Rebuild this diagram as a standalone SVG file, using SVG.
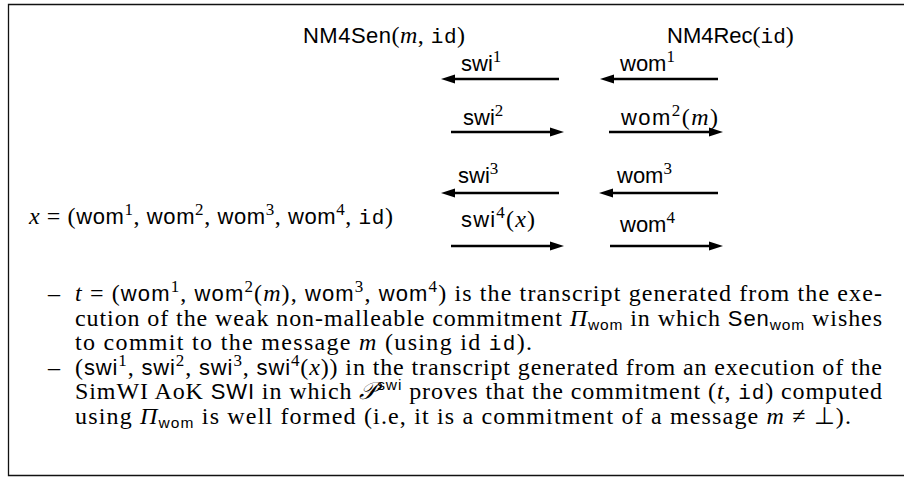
<svg xmlns="http://www.w3.org/2000/svg" width="904" height="477" viewBox="0 0 904 477">
<style>
  text { fill: #000; font-size: 24px; }
  .sf { font-family: "Liberation Sans", Arial, sans-serif; font-size: 22px; }
  .rm { font-family: "Liberation Serif", "Times New Roman", serif; font-size: 24px; }
  .it { font-family: "Liberation Serif", "Times New Roman", serif; font-style: italic; font-size: 24px; }
  .tt { font-family: "Liberation Mono", "Courier New", monospace; font-size: 21px; }
  .sup { font-family: "Liberation Serif", "Times New Roman", serif; font-size: 17px; }
  .sub { font-family: "Liberation Sans", Arial, sans-serif; font-size: 15.5px; }
  .arrow { stroke: #000; stroke-width: 2.6; fill: none; marker-end: url(#head); }
  .frame { stroke: #111; stroke-width: 1.3; fill: none; }
</style>
<defs>
  <marker id="head" markerUnits="userSpaceOnUse" markerWidth="14" markerHeight="10" viewBox="0 0 14 10" refX="0" refY="5" orient="auto">
    <path d="M0,0.4 L14,5 L0,9.6 z" fill="#000"/>
  </marker>
</defs>
<rect width="904" height="477" fill="#fff"/>
<path class="frame" d="M904,4.5 H8.5 V475.5 H904"/>

<g id="sender">
  <text x="303" y="43" textLength="162" lengthAdjust="spacing"><tspan class="sf">NM4Sen</tspan><tspan class="rm">(</tspan><tspan class="it">m</tspan><tspan class="rm">, </tspan><tspan class="tt">id</tspan><tspan class="rm">)</tspan></text>
</g>
<g id="receiver">
  <text x="667" y="43"><tspan class="sf">NM4Rec</tspan><tspan class="rm">(</tspan><tspan class="tt">id</tspan><tspan class="rm">)</tspan></text>
</g>
<g id="statement">
  <text x="29" y="224" textLength="364" lengthAdjust="spacing"><tspan class="it">x</tspan><tspan class="rm"> = (</tspan><tspan class="sf">wom</tspan><tspan class="sup" dy="-9">1</tspan><tspan class="rm" dy="9">, </tspan><tspan class="sf">wom</tspan><tspan class="sup" dy="-9">2</tspan><tspan class="rm" dy="9">, </tspan><tspan class="sf">wom</tspan><tspan class="sup" dy="-9">3</tspan><tspan class="rm" dy="9">, </tspan><tspan class="sf">wom</tspan><tspan class="sup" dy="-9">4</tspan><tspan class="rm" dy="9">, </tspan><tspan class="tt">id</tspan><tspan class="rm">)</tspan></text>
</g>

<g id="connectors">
  <line class="arrow" x1="559" y1="79" x2="455" y2="79"/>
  <line class="arrow" x1="718" y1="79" x2="614" y2="79"/>
  <line class="arrow" x1="451" y1="132" x2="550" y2="132"/>
  <line class="arrow" x1="609" y1="132" x2="709" y2="132"/>
  <line class="arrow" x1="559" y1="193" x2="455" y2="193"/>
  <line class="arrow" x1="718" y1="193" x2="613" y2="193"/>
  <line class="arrow" x1="451" y1="246" x2="550" y2="246"/>
  <line class="arrow" x1="610" y1="246" x2="709" y2="246"/>
</g>
<g id="connector-labels">
  <text x="461" y="71"><tspan class="sf">swi</tspan><tspan class="sup" dy="-9">1</tspan></text>
  <text x="620" y="71"><tspan class="sf">wom</tspan><tspan class="sup" dy="-9">1</tspan></text>
  <text x="463" y="125"><tspan class="sf">swi</tspan><tspan class="sup" dy="-9">2</tspan></text>
  <text x="621" y="125" textLength="97" lengthAdjust="spacing"><tspan class="sf">wom</tspan><tspan class="sup" dy="-9">2</tspan><tspan class="rm" dy="9">(</tspan><tspan class="it">m</tspan><tspan class="rm">)</tspan></text>
  <text x="458" y="183"><tspan class="sf">swi</tspan><tspan class="sup" dy="-9">3</tspan></text>
  <text x="617" y="183"><tspan class="sf">wom</tspan><tspan class="sup" dy="-9">3</tspan></text>
  <text x="461" y="227" textLength="74" lengthAdjust="spacing"><tspan class="sf">swi</tspan><tspan class="sup" dy="-9">4</tspan><tspan class="rm" dy="9">(</tspan><tspan class="it">x</tspan><tspan class="rm">)</tspan></text>
  <text x="620" y="232"><tspan class="sf">wom</tspan><tspan class="sup" dy="-9">4</tspan></text>
</g>

<g id="notes">
  <text class="rm" x="48" y="301">–</text>
  <text x="75" y="301" textLength="807" lengthAdjust="spacing"><tspan class="it">t</tspan><tspan class="rm"> = (</tspan><tspan class="sf">wom</tspan><tspan class="sup" dy="-9">1</tspan><tspan class="rm" dy="9">, </tspan><tspan class="sf">wom</tspan><tspan class="sup" dy="-9">2</tspan><tspan class="rm" dy="9">(</tspan><tspan class="it">m</tspan><tspan class="rm">), </tspan><tspan class="sf">wom</tspan><tspan class="sup" dy="-9">3</tspan><tspan class="rm" dy="9">, </tspan><tspan class="sf">wom</tspan><tspan class="sup" dy="-9">4</tspan><tspan class="rm" dy="9">) is the transcript generated from the exe-</tspan></text>
  <text class="rm" x="75" y="325.5" textLength="807" lengthAdjust="spacing">cution of the weak non-malleable commitment <tspan class="it">Π</tspan><tspan class="sub" dy="4">wom</tspan><tspan class="rm" dy="-4"> in which </tspan><tspan class="sf">Sen</tspan><tspan class="sub" dy="4">wom</tspan><tspan class="rm" dy="-4"> wishes</tspan></text>
  <text class="rm" x="75" y="350" textLength="457" lengthAdjust="spacing">to commit to the message <tspan class="it">m</tspan><tspan class="rm"> (using id </tspan><tspan class="tt">id</tspan><tspan class="rm">).</tspan></text>
  <text class="rm" x="48" y="374.5">–</text>
  <text class="rm" x="75" y="374.5" textLength="807" lengthAdjust="spacing">(<tspan class="sf">swi</tspan><tspan class="sup" dy="-9">1</tspan><tspan class="rm" dy="9">, </tspan><tspan class="sf">swi</tspan><tspan class="sup" dy="-9">2</tspan><tspan class="rm" dy="9">, </tspan><tspan class="sf">swi</tspan><tspan class="sup" dy="-9">3</tspan><tspan class="rm" dy="9">, </tspan><tspan class="sf">swi</tspan><tspan class="sup" dy="-9">4</tspan><tspan class="rm" dy="9">(</tspan><tspan class="it">x</tspan><tspan class="rm">)) in the transcript generated from an execution of the</tspan></text>
  <text class="rm" x="75" y="399" textLength="807" lengthAdjust="spacing">SimWI AoK <tspan class="sf">SWI</tspan><tspan class="rm"> in which </tspan><tspan class="it">𝒫</tspan><tspan class="sub" dy="-9">swi</tspan><tspan class="rm" dy="9"> proves that the commitment (</tspan><tspan class="it">t</tspan><tspan class="rm">, </tspan><tspan class="tt">id</tspan><tspan class="rm">) computed</tspan></text>
  <text class="rm" x="75" y="423.5" textLength="776" lengthAdjust="spacing">using <tspan class="it">Π</tspan><tspan class="sub" dy="4">wom</tspan><tspan class="rm" dy="-4"> is well formed (i.e, it is a commitment of a message </tspan><tspan class="it">m</tspan><tspan class="rm"> ≠ ⊥).</tspan></text>
</g>
</svg>
